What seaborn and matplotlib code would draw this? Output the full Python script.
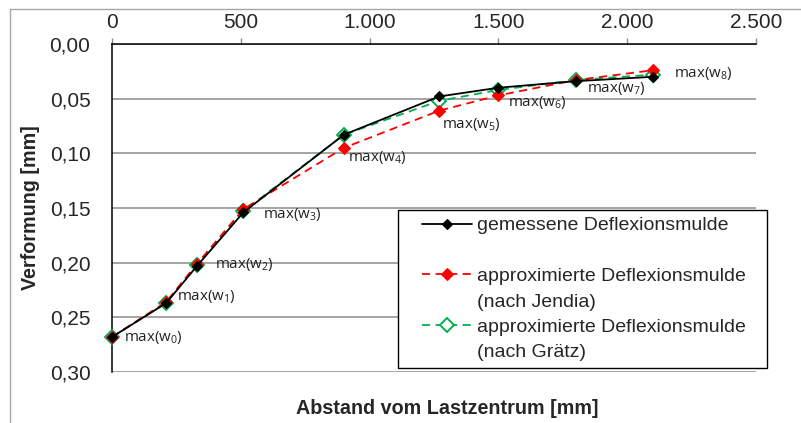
import matplotlib
matplotlib.use("Agg")
import matplotlib.pyplot as plt
from matplotlib.lines import Line2D
from matplotlib.legend_handler import HandlerLine2D
from matplotlib.ticker import FuncFormatter, MultipleLocator
import pandas as pd
import seaborn as sns

# Deflection bowl: geophone distance from load centre and deflection values
distance_mm = [0, 210, 330, 510, 900, 1270, 1500, 1800, 2100]
measured = [0.268, 0.237, 0.203, 0.154, 0.083, 0.048, 0.040, 0.034, 0.030]
jendia = [0.268, 0.236, 0.201, 0.151, 0.095, 0.061, 0.047, 0.033, 0.024]
graetz = [0.268, 0.237, 0.202, 0.153, 0.083, 0.052, 0.042, 0.033, 0.028]
point_labels = [f"max(w$_{{{i}}}$)" for i in range(len(distance_mm))]

series_names = [
    "gemessene Deflexionsmulde",
    "approximierte Deflexionsmulde",
    "(nach Jendia)",
    "approximierte Deflexionsmulde",
    "(nach Grätz)",
]
x_label = "Abstand vom Lastzentrum [mm]"
y_label = "Verformung [mm]"

# label placement relative to the measured points, in pixels (x right, y up)
label_offsets = [(12, 0), (11, 7), (18, 1), (20, -2), (4, -23),
                 (3, -28), (10, -15), (11, -7), (21, 3)]

sns.set_style("white")
plt.rcParams["font.family"] = ["Liberation Sans", "DejaVu Sans"]
plt.rcParams["mathtext.fontset"] = "custom"
plt.rcParams["mathtext.rm"] = "Open Sans"
plt.rcParams["mathtext.it"] = "Open Sans"
plt.rcParams["mathtext.default"] = "rm"

TICK_FS = 15
LEG_FS = 14
LABEL_FS = 14.2
GREY = "#8c8c8c"
RED = "#ff0000"
GREEN = "#00b050"

df = pd.DataFrame({"dist": distance_mm, "measured": measured,
                   "jendia": jendia, "graetz": graetz})

fig = plt.figure(figsize=(8.01, 4.23), dpi=100)
W, H = 801, 423
ax = fig.add_axes([112 / W, 1 - 372 / H, 644 / W, 328 / H])

green_style = dict(color=GREEN, lw=1.3, linestyle=(0, (4.5, 3)), marker="D",
                   markersize=7, markerfacecolor="white", markeredgecolor=GREEN,
                   markeredgewidth=1.4)
red_style = dict(color=RED, lw=1.3, linestyle=(0, (4.5, 3)), marker="D",
                 markersize=6, markerfacecolor=RED, markeredgecolor=RED,
                 markeredgewidth=0.8)
black_style = dict(color="black", lw=1.3, linestyle="-", marker="D",
                   markersize=5, markerfacecolor="black", markeredgecolor="black",
                   markeredgewidth=0.8)

sns.lineplot(data=df, x="dist", y="graetz", ax=ax, zorder=3, clip_on=False,
             legend=False, **green_style)
sns.lineplot(data=df, x="dist", y="jendia", ax=ax, zorder=4, clip_on=False,
             legend=False, **red_style)
sns.lineplot(data=df, x="dist", y="measured", ax=ax, zorder=5, clip_on=False,
             legend=False, **black_style)

for xv, yv, txt, (dx, dy) in zip(distance_mm, measured, point_labels, label_offsets):
    ax.annotate(txt, xy=(xv, yv), xytext=(dx, dy), textcoords="offset pixels",
                ha="left", va="center", fontsize=10.8, family="Open Sans",
                color="#222222", zorder=6, annotation_clip=False)

# axes: distance on top, deflection downwards
ax.set_xlim(0, 2500)
ax.set_ylim(0.30, 0.0)
ax.xaxis.set_major_locator(MultipleLocator(500))
ax.yaxis.set_major_locator(MultipleLocator(0.05))
ax.xaxis.set_major_formatter(FuncFormatter(lambda v, p: f"{v:,.0f}".replace(",", ".")))
ax.yaxis.set_major_formatter(FuncFormatter(lambda v, p: f"{v:.2f}".replace(".", ",")))
ax.xaxis.tick_top()
ax.tick_params(axis="x", direction="out", length=4, width=1, color=GREY,
               labelsize=TICK_FS, pad=4.5)
ax.tick_params(axis="y", direction="out", length=5, width=1, color=GREY,
               labelsize=TICK_FS, pad=10.5)

ax.grid(axis="y", color=GREY, lw=1.1)
ax.grid(axis="x", visible=False)
for side in ("right", "bottom"):
    ax.spines[side].set_visible(False)
for side in ("top", "left"):
    ax.spines[side].set_color("black")
    ax.spines[side].set_linewidth(1.1)
    ax.spines[side].set_zorder(2.5)

ax.xaxis.set_label_position("bottom")
ax.set_xlabel(x_label, fontsize=LABEL_FS, fontweight="bold")
ax.xaxis.set_label_coords((447 - 112) / 644, (372 - 399) / 328)
ax.set_ylabel(y_label, fontsize=LABEL_FS, fontweight="bold")
ax.yaxis.set_label_coords((40 - 112) / 644, 0.5)

# legend with the second line of each long entry on its own row
blank = Line2D([], [], linestyle="none", marker=None)
handles = [Line2D([], [], **black_style), blank, Line2D([], [], **red_style), blank,
           Line2D([], [], **green_style), blank]
labels = [series_names[0], " ", series_names[1], series_names[2],
          series_names[3], series_names[4]]
leg_fs_px = LEG_FS * 100 / 72
leg = ax.legend(handles, labels, loc="upper left",
                bbox_to_anchor=(398 / W, 1 - 210 / H, 369 / W, 0),
                bbox_transform=fig.transFigure, borderaxespad=0, mode="expand",
                fontsize=LEG_FS, frameon=True, fancybox=False, framealpha=1,
                edgecolor="black", handlelength=67 / leg_fs_px,
                handletextpad=5 / leg_fs_px, labelspacing=0.4, borderpad=0.35,
                handler_map={Line2D: HandlerLine2D(xpad=17 / leg_fs_px)})
leg.get_frame().set_linewidth(1.0)
leg.set_zorder(10)

# chart area outline
fig.add_artist(Line2D([10 / W, 10 / W], [0, 1 - 9 / H], transform=fig.transFigure,
                      color="#a6a6a6", lw=1))
fig.add_artist(Line2D([10 / W, 1], [1 - 9 / H, 1 - 9 / H], transform=fig.transFigure,
                      color="#a6a6a6", lw=1))

fig.savefig("out.png", dpi=100)
